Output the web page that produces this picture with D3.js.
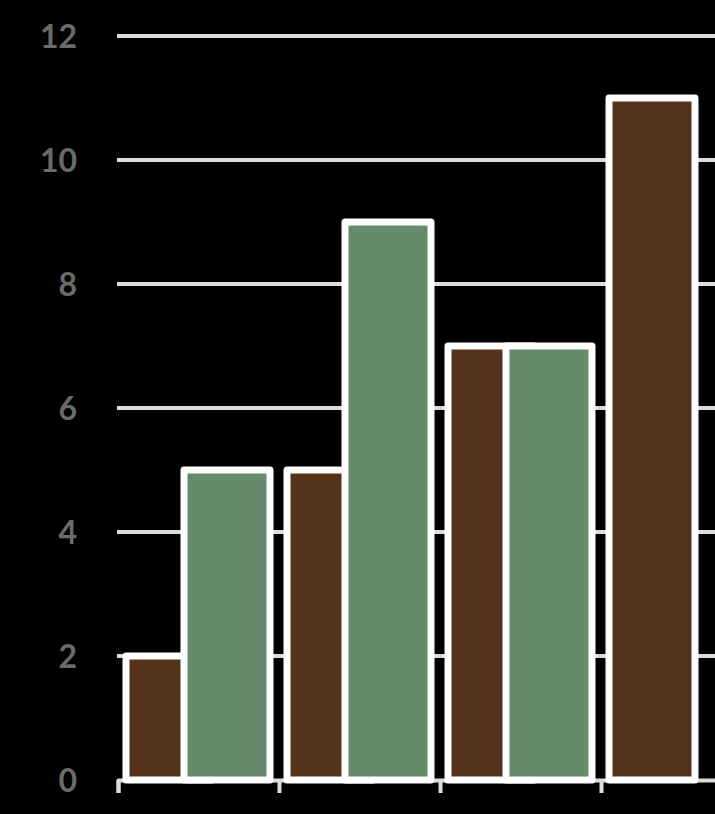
<!DOCTYPE html>
<html>
<head>
<meta charset="utf-8">
<script src="https://cdn.jsdelivr.net/npm/d3@7"></script>
<style>
  html, body { margin: 0; padding: 0; background: #000; }
  svg { display: block; }
</style>
</head>
<body>
<svg id="chart" width="715" height="814"></svg>
<script>
const categories = ["A", "B", "C", "D"];
const seriesBrown = [2, 5, 7, 11];
const seriesGreen = [5, 9, 7, null];
const yTicks = [0, 2, 4, 6, 8, 10, 12];

const W = 715, H = 814;
const svg = d3.select("#chart");
svg.append("rect").attr("width", W).attr("height", H).attr("fill", "#000");

const y = d3.scaleLinear().domain([0, 12]).range([780, 36]);
const x = d3.scaleBand().domain(categories).range([118, 118 + 161 * categories.length]).padding(0);
const xEdge = d3.scaleLinear().domain([0, categories.length]).range([118, 118 + 161 * categories.length]);
const sub = d3.scaleLinear().domain([0, 1]).range([8, 66]);
const barW = 86;

// gridlines
svg.append("g").selectAll("line").data(yTicks.filter(d => d > 0)).join("line")
  .attr("x1", 117).attr("x2", W + 10)
  .attr("y1", d => y(d)).attr("y2", d => y(d))
  .attr("stroke", "#dcdcdc").attr("stroke-width", 4);

// y labels
const yAxis = svg.append("g").attr("transform", "translate(77,0)")
  .call(d3.axisLeft(y).tickValues(yTicks).tickSize(0).tickPadding(0));
yAxis.select(".domain").remove();
yAxis.selectAll("text")
  .attr("fill", "#6b6b6b")
  .attr("font-family", "Lato, 'Open Sans', sans-serif")
  .attr("font-weight", 700)
  .attr("font-size", 32)
  .attr("dy", "0.36em");

// x axis
const xAxis = svg.append("g").attr("transform", "translate(0,780)")
  .call(d3.axisBottom(xEdge).tickValues(d3.range(categories.length + 1)).tickSize(13).tickSizeOuter(13).tickFormat(""));
xAxis.select(".domain").attr("stroke", "#dcdcdc").attr("stroke-width", 4).attr("stroke-linejoin", "round").attr("fill", "none");
xAxis.selectAll(".tick line").attr("stroke", "#dcdcdc").attr("stroke-width", 4);

// bars
const series = [
  { values: seriesBrown, color: "#55341b" },
  { values: seriesGreen, color: "#648c6a" }
];
series.forEach((s, i) => {
  svg.append("g").selectAll("rect")
    .data(categories.map((c, j) => ({ c, v: s.values[j] })).filter(d => d.v != null))
    .join("rect")
    .attr("x", d => x(d.c) + sub(i))
    .attr("y", d => y(d.v))
    .attr("width", barW)
    .attr("height", d => y(0) - y(d.v))
    .attr("fill", s.color)
    .attr("stroke", "#ffffff")
    .attr("stroke-width", 7)
    .attr("stroke-linejoin", "round");
});
</script>
</body>
</html>
